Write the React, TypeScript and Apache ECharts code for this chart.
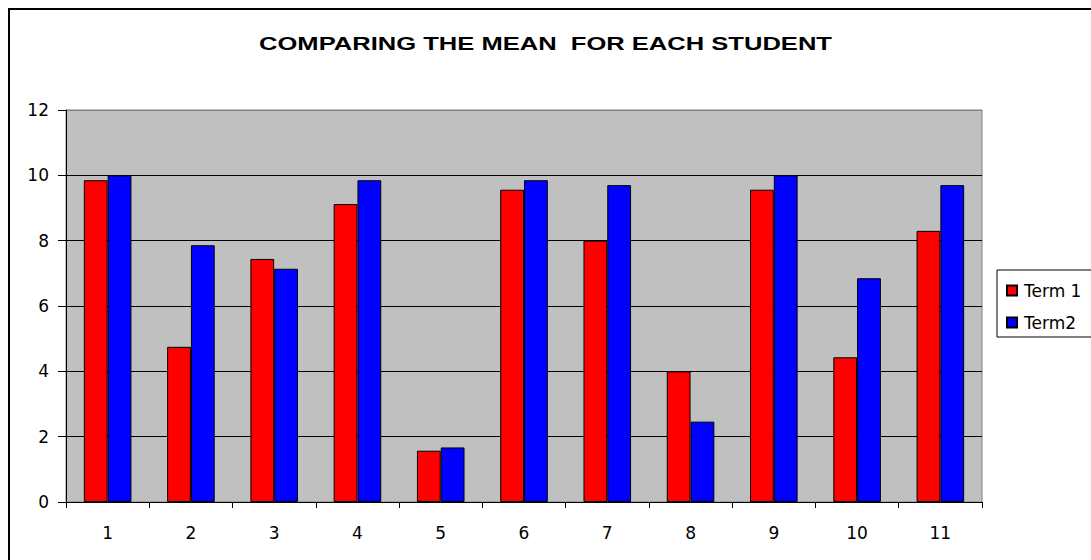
import React, { useEffect, useRef } from "react";
import * as echarts from "echarts";

const students = ["1", "2", "3", "4", "5", "6", "7", "8", "9", "10", "11"];
const term1 = [9.85, 4.75, 7.44, 9.12, 1.57, 9.56, 8.0, 4.0, 9.56, 4.43, 8.3];
const term2 = [10.0, 7.86, 7.14, 9.85, 1.67, 9.85, 9.7, 2.46, 10.0, 6.85, 9.7];
const seriesNames = ["Term 1", "Term2"];
const titleText = "COMPARING THE MEAN  FOR EACH STUDENT";

const FONT = "'DejaVu Sans', sans-serif";
const TITLE_FONT = "'Liberation Sans', Arial, sans-serif";

export default function App() {
  const ref = useRef<HTMLDivElement>(null);
  useEffect(() => {
    if (!ref.current) return;
    const chart = echarts.init(ref.current, null, { renderer: "svg" });
    chart.setOption({
      animation: false,
      backgroundColor: "#ffffff",
      legend: {
        orient: "vertical",
        left: 997,
        top: 270,
        padding: [12, 30, 6, 9],
        itemGap: 15,
        itemWidth: 10,
        itemHeight: 10,
        borderColor: "#000",
        borderWidth: 1,
        icon: "rect",
        textStyle: { fontFamily: FONT, fontSize: 17, color: "#000", padding: [0, 0, 0, 2] },
        data: seriesNames,
      },
      grid: {
        left: 66,
        right: 109,
        top: 110,
        bottom: 58,
        show: true,
        backgroundColor: "#C0C0C0",
        borderColor: "#808080",
        borderWidth: 1,
        containLabel: false,
      },
      xAxis: {
        type: "category",
        data: students,
        boundaryGap: true,
        axisLine: { show: true, lineStyle: { color: "#000", width: 1 } },
        axisTick: { show: true, length: 6, alignWithLabel: false, lineStyle: { color: "#000" } },
        axisLabel: { fontFamily: FONT, fontSize: 17, color: "#000", margin: 22 },
        splitLine: { show: false },
      },
      yAxis: {
        type: "value",
        min: 0,
        max: 12,
        interval: 2,
        axisLine: { show: true, lineStyle: { color: "#000", width: 1 } },
        axisTick: { show: true, length: 8, inside: false, lineStyle: { color: "#000" } },
        axisLabel: { fontFamily: FONT, fontSize: 17, color: "#000", margin: 17 },
        splitLine: {
          show: true,
          lineStyle: {
            color: ["#000", "#000", "#000", "#000", "#000", "#000", "#808080"],
            width: 1,
          },
        },
      },
      series: [
        {
          name: seriesNames[0],
          type: "bar",
          data: term1,
          barGap: "0%",
          barCategoryGap: "42.86%",
          itemStyle: { color: "#FF0000", borderColor: "#000", borderWidth: 1 },
        },
        {
          name: seriesNames[1],
          type: "bar",
          data: term2,
          barGap: "0%",
          barCategoryGap: "42.86%",
          itemStyle: { color: "#0000FF", borderColor: "#000", borderWidth: 1 },
        },
      ],
      graphic: [
        {
          type: "text",
          silent: true,
          x: 545.5,
          y: 44,
          scaleX: 1.42,
          scaleY: 1,
          style: {
            text: titleText,
            x: 0,
            y: 0,
            textAlign: "center",
            textVerticalAlign: "middle",
            fontFamily: TITLE_FONT,
            fontSize: 18,
            fontWeight: "bold",
            fill: "#000",
          },
        },
        {
          type: "rect",
          silent: true,
          shape: { x: 9, y: 9, width: 1300, height: 1300 },
          style: { fill: "none", stroke: "#000", lineWidth: 2 },
          z: 100,
        },
      ],
    });
    return () => chart.dispose();
  }, []);
  return (
    <div
      ref={ref}
      style={{ position: "fixed", left: 0, top: 0, width: 1091, height: 560 }}
    />
  );
}
